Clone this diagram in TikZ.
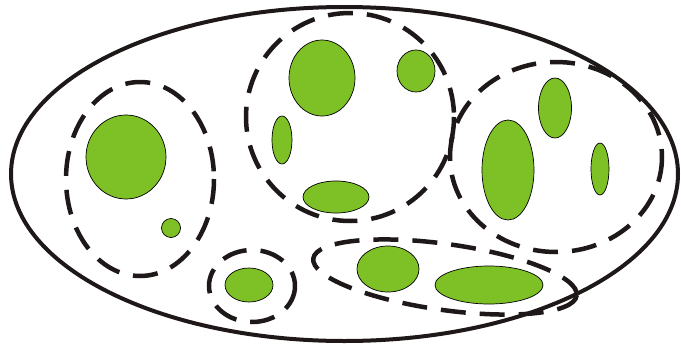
\documentclass[tikz,border=0pt]{standalone}
\begin{document}
\begin{tikzpicture}[x=1pt,y=-1pt,
  outer/.style={line width=4pt, draw={rgb,255:red,30;green,25;blue,24}},
  grp/.style={line width=4.5pt, draw={rgb,255:red,30;green,25;blue,24}, dash pattern=on 25pt off 14pt},
  blob/.style={fill={rgb,255:red,126;green,193;blue,39}, draw=black, line width=0.7pt}]
\useasboundingbox (0,0) rectangle (681,346);
% outer cell
\draw[outer] (344.5,174) ellipse [x radius=333.5, y radius=167];
% left group
\draw[grp] (140,179) ellipse [x radius=74, y radius=97];
\draw[blob] (126,157) ellipse [x radius=40, y radius=42];
\draw[blob] (171,228) ellipse [x radius=9.5, y radius=9.5];
% small bottom group
\draw[grp] (252,286) ellipse [x radius=43, y radius=36];
\draw[blob] (249,285) ellipse [x radius=24, y radius=17];
% top middle group
\draw[grp] (350,117) ellipse [x radius=104, y radius=104];
\draw[blob] (322,78) ellipse [x radius=33, y radius=38];
\draw[blob] (416,71) ellipse [x radius=19, y radius=21];
\draw[blob] (282,140) ellipse [x radius=10, y radius=24];
\draw[blob] (336,197) ellipse [x radius=33, y radius=16];
% right group
\draw[grp] (556,157) ellipse [x radius=106, y radius=95];
\draw[blob] (508,170) ellipse [x radius=26, y radius=50];
\draw[blob] (555,108) ellipse [x radius=16.5, y radius=30];
\draw[blob] (600,169) ellipse [x radius=9, y radius=26];
% bottom elongated group
\draw[grp, rotate around={-8:(445,277)}] (445,277) ellipse [x radius=133, y radius=33];
\draw[blob] (388,269) ellipse [x radius=31, y radius=23];
\draw[blob] (489,285) ellipse [x radius=54, y radius=19];
\end{tikzpicture}
\end{document}
